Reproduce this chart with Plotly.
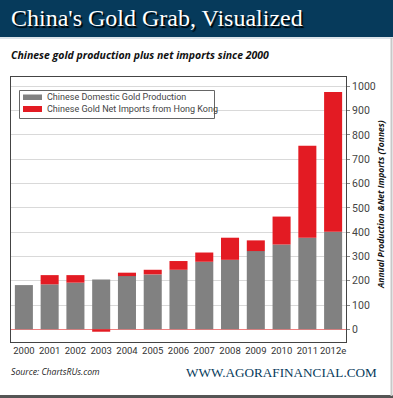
import plotly.graph_objects as go

years = ["2000", "2001", "2002", "2003", "2004", "2005", "2006", "2007", "2008", "2009", "2010", "2011", "2012e"]
domestic = [182, 185, 192, 205, 219, 226, 245, 278, 286, 322, 349, 377, 401]
imports = [0, 38, 31, -10, 14, 19, 36, 38, 91, 44, 115, 378, 576]
y_ticks = [0, 100, 200, 300, 400, 500, 600, 700, 800, 900, 1000]
series_names = ["Chinese Domestic Gold Production", "Chinese Gold Net Imports from Hong Kong"]

W, H = 393, 398
NAVY = "#063a5b"
GRAY = "#818181"
RED = "#e31b23"

fig = go.Figure()
fig.add_trace(go.Bar(x=years, y=domestic, name=series_names[0],
                     marker=dict(color=GRAY, line=dict(width=0))))
fig.add_trace(go.Bar(x=years, y=imports, name=series_names[1],
                     marker=dict(color=RED, line=dict(width=0))))

def px(x):
    return x / W

def py(y):
    return 1 - y / H

x0, x1 = px(11), px(346)
y0, y1 = py(342), py(77)

shapes = [
    dict(type="rect", xref="paper", yref="paper", x0=0, x1=1, y0=py(37), y1=1,
         fillcolor=NAVY, line=dict(width=0), layer="below"),
    dict(type="line", xref="paper", yref="paper", x0=0, x1=1, y0=py(38), y1=py(38),
         line=dict(color="#b8c8d4", width=1)),
    dict(type="line", xref="paper", yref="paper", x0=0, x1=1, y0=py(396.5), y1=py(396.5),
         line=dict(color="#555555", width=3)),
    dict(type="line", xref="paper", yref="paper", x0=px(391.5), x1=px(391.5), y0=py(396), y1=py(38),
         line=dict(color="#c8c8c8", width=2)),
    # legend box
    dict(type="rect", xref="paper", yref="paper", x0=px(19.5), x1=px(214.5), y0=py(118.5), y1=py(90.5),
         fillcolor="white", line=dict(color="#666666", width=1), layer="above"),
    dict(type="rect", xref="paper", yref="paper", x0=px(23), x1=px(42), y0=py(100), y1=py(94.5),
         fillcolor=GRAY, line=dict(width=0), layer="above"),
    dict(type="rect", xref="paper", yref="paper", x0=px(23), x1=px(42), y0=py(112), y1=py(106),
         fillcolor=RED, line=dict(width=0), layer="above"),
]

annotations = [
    dict(text="China's Gold Grab, Visualized", xref="paper", yref="paper",
         x=px(9), y=py(18.5), xanchor="left", yanchor="middle", showarrow=False,
         font=dict(family="Liberation Serif", size=24, color="white", shadow="1.5px 1.5px 1px #000000")),
    dict(text="<b><i>Chinese gold production plus net imports since 2000</i></b>", xref="paper", yref="paper",
         x=px(9), y=py(55), xanchor="left", yanchor="middle", showarrow=False,
         font=dict(family="Open Sans", size=10.5, color="#111111")),
    dict(text="<b><i>Annual Production &Net Imports (Tonnes)</i></b>", xref="paper", yref="paper",
         x=px(381), y=py(205), xanchor="center", yanchor="middle", showarrow=False, textangle=-90,
         font=dict(family="Open Sans", size=8.5, color="#111111")),
    dict(text="<i>Source: ChartsRUs.com</i>", xref="paper", yref="paper",
         x=px(9), y=py(372), xanchor="left", yanchor="middle", showarrow=False,
         font=dict(family="Open Sans", size=8.7, color="#222222")),
    dict(text="WWW.AGORAFINANCIAL.COM", xref="paper", yref="paper",
         x=px(379), y=py(372), xanchor="right", yanchor="middle", showarrow=False,
         font=dict(family="Liberation Serif", size=13.2, color=NAVY)),
    dict(text=series_names[0], xref="paper", yref="paper",
         x=px(45), y=py(97.5), xanchor="left", yanchor="middle", showarrow=False,
         font=dict(family="Roboto", size=9, color="#444444")),
    dict(text=series_names[1], xref="paper", yref="paper",
         x=px(45), y=py(109), xanchor="left", yanchor="middle", showarrow=False,
         font=dict(family="Roboto", size=9, color="#444444")),
]

fig.update_layout(
    width=W, height=H,
    margin=dict(l=0, r=0, t=0, b=0),
    paper_bgcolor="white", plot_bgcolor="white",
    barmode="relative", bargap=0.3,
    showlegend=False,
    xaxis=dict(domain=[x0, x1], showline=True, mirror=True, linecolor="#444444", linewidth=1,
               ticks="", tickangle=0, tickfont=dict(family="Roboto", size=9.5, color="#333333"),
               showgrid=False, fixedrange=True),
    yaxis=dict(domain=[y0, y1], side="right", range=[-52.3, 1038.5],
               tickvals=y_ticks, ticktext=[str(v) for v in y_ticks],
               showline=True, mirror=True, linecolor="#444444", linewidth=1,
               ticks="outside", ticklen=3, tickcolor="#888888",
               tickfont=dict(family="Roboto", size=10.5, color="#444444"),
               showgrid=True, gridcolor="#d9d9d9", gridwidth=1,
               zeroline=True, zerolinecolor="#f08080", zerolinewidth=1, fixedrange=True),
    shapes=shapes,
    annotations=annotations,
)

fig.write_html("out.html", config={"displayModeBar": False},
               post_script="document.body.style.margin='0px';document.body.style.overflow='hidden';")
